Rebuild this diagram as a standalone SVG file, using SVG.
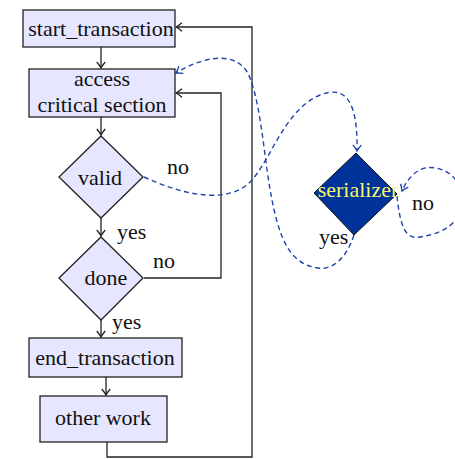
<svg xmlns="http://www.w3.org/2000/svg" width="455" height="459" viewBox="0 0 455 459">
  <style>
    .box { fill: #e6e6ff; stroke: #222; stroke-width: 1.3; }
    .lbl { font-family: "Liberation Serif", "Times New Roman", serif; font-size: 22px; fill: #111; }
    .mid { text-anchor: middle; }
    .flow { fill: none; stroke: #222; stroke-width: 1.3; }
    .dash { fill: none; stroke: #1f45a8; stroke-width: 1.4; stroke-dasharray: 5 3.5; }
  </style>
  <defs>
    <marker id="arrow" markerUnits="userSpaceOnUse" markerWidth="12" markerHeight="12" viewBox="-8 -6 10 12" refX="0" refY="0" orient="auto">
      <path d="M-6,-4.2 Q-2,-1 0,0 Q-2,1 -6,4.2" fill="none" stroke="#222" stroke-width="1.3"/>
    </marker>
    <marker id="arrowBlue" markerUnits="userSpaceOnUse" markerWidth="12" markerHeight="12" viewBox="-8 -6 10 12" refX="0" refY="0" orient="auto">
      <path d="M-6,-4.2 Q-2,-1 0,0 Q-2,1 -6,4.2" fill="none" stroke="#1f45a8" stroke-width="1.4"/>
    </marker>
  </defs>

  <g id="connectors">
    <path class="flow" d="M101,47 V68" marker-end="url(#arrow)"/>
    <path class="flow" d="M101,117 V135" marker-end="url(#arrow)"/>
    <path class="flow" d="M101,218 V236" marker-end="url(#arrow)"/>
    <path class="flow" d="M101,320 V337" marker-end="url(#arrow)"/>
    <path class="flow" d="M106,377 V395" marker-end="url(#arrow)"/>
    <path class="flow" d="M144,278 H221 V93 H176" marker-end="url(#arrow)"/>
    <path class="flow" d="M107,442 V457 H252 V27 H176" marker-end="url(#arrow)"/>
    <path class="dash" d="M144,177 C185,196 230,205 252,180 C272,157 285,110 320,95 C345,85 358,100 357,151" marker-end="url(#arrowBlue)"/>
    <path class="dash" d="M354,235 C345,262 330,270 318,268 C290,264 280,240 272,200 C264,160 262,110 250,78 C240,50 205,55 176,73" marker-end="url(#arrowBlue)"/>
    <path class="dash" d="M397,196 C400,225 405,240 420,237 C440,234 462,225 462,200 C462,175 440,165 425,168 C413,171 406,182 402,191" marker-end="url(#arrowBlue)"/>
    <text class="lbl" x="167" y="174">no</text>
    <text class="lbl" x="117" y="239">yes</text>
    <text class="lbl" x="153" y="268">no</text>
    <text class="lbl" x="112" y="329">yes</text>
    <text class="lbl" x="319" y="244">yes</text>
    <text class="lbl" x="412" y="210">no</text>
  </g>

  <g id="start_transaction">
    <rect class="box" x="23" y="10" width="152" height="37"/>
    <text class="lbl mid" x="101" y="36">start_transaction</text>
  </g>
  <g id="access">
    <rect class="box" x="29" y="69" width="146" height="48"/>
    <text class="lbl mid" x="102" y="86">access</text>
    <text class="lbl mid" x="102" y="112">critical section</text>
  </g>
  <g id="valid">
    <polygon class="box" points="101,136 143,177 101,218 59,177"/>
    <text class="lbl mid" x="100" y="185">valid</text>
  </g>
  <g id="done">
    <polygon class="box" points="101,237 143,278 101,320 59,278"/>
    <text class="lbl mid" x="106" y="285">done</text>
  </g>
  <g id="end_transaction">
    <rect class="box" x="29" y="338" width="153" height="39"/>
    <text class="lbl mid" x="105" y="365">end_transaction</text>
  </g>
  <g id="other_work">
    <rect class="box" x="40" y="396" width="127" height="46"/>
    <text class="lbl mid" x="103" y="425">other work</text>
  </g>
  <g id="serializer">
    <polygon points="356,153 397,194 354,235 314,193" fill="#003399" stroke="#111" stroke-width="1"/>
    <text class="lbl mid" x="358" y="197" style="fill:#f6f66e">serializer</text>
  </g>
</svg>
